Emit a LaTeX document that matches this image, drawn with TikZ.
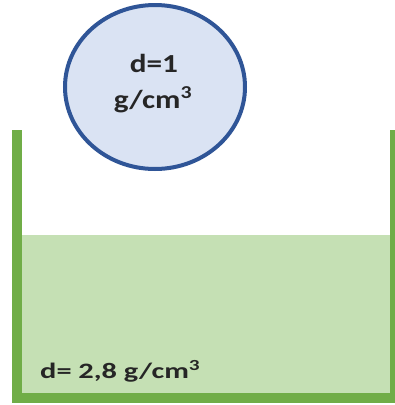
\documentclass[tikz,border=0pt]{standalone}
\usepackage{fontspec}
\setmainfont{Carlito}
\usetikzlibrary{shapes.geometric}
\definecolor{wallgreen}{HTML}{70AD47}
\definecolor{liquidgreen}{HTML}{C5E0B4}
\definecolor{ballfill}{HTML}{DAE3F3}
\definecolor{ballline}{HTML}{2F5597}
\definecolor{txt}{HTML}{262626}
\begin{document}
\begin{tikzpicture}[x=1pt,y=-1pt,
  wall/.style={draw=wallgreen,line width=10pt,miter limit=10},
  liquid/.style={fill=liquidgreen,draw=none},
  ball/.style={ellipse,draw=ballline,fill=ballfill,line width=4pt,minimum width=180pt,minimum height=164pt,inner sep=0pt},
  lbl/.style={text=txt,font=\bfseries,inner sep=0pt}]
\useasboundingbox (0,0) rectangle (395,405);
\fill[liquid] (22,235) rectangle (390,393);
\draw[wall] (17,130) -- (17,398) -- (395,398) -- (395,130);
\node[ball] (b) at (155,87) {};
\node[lbl,font=\bfseries\fontsize{26}{30}\selectfont,anchor=base] (t1) at (154,72) {\scalebox{1.2}[1]{d=1}};
\node[lbl,font=\bfseries\fontsize{26}{30}\selectfont,anchor=base] (t2) at (153,108) {\scalebox{1.2}[1]{g/cm\textsuperscript{3}}};
\node[lbl,font=\bfseries\fontsize{22}{26}\selectfont,anchor=base west] (t3) at (40,378) {\scalebox{1.38}[1]{d= 2,8 g/cm\textsuperscript{3}}};
\end{tikzpicture}
\end{document}
